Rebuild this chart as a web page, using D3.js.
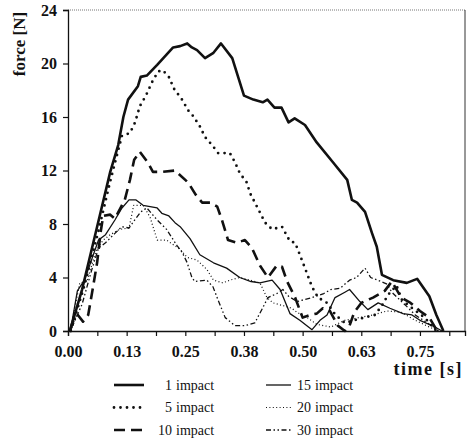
<!DOCTYPE html>
<html>
<head>
<meta charset="utf-8">
<script src="https://cdn.jsdelivr.net/npm/d3@7"></script>
<style>
    body { margin: 0; background: #fff; }
    text { font-family: "Liberation Serif", "Times New Roman", serif; fill: #111; }
</style>
</head>
<body>
<script>
    // force curves, [time s, force N]
    const impact1 = [[0.004,0],[0.03,3.1],[0.06,7.5],[0.09,11.9],[0.107,13.9],[0.118,16],[0.128,17.3],[0.149,18.3],[0.155,19],[0.168,19.1],[0.19,19.9],[0.224,21.2],[0.239,21.3],[0.254,21.5],[0.264,21.2],[0.275,21.0],[0.292,20.4],[0.31,20.8],[0.326,21.5],[0.35,20.4],[0.375,17.6],[0.395,17.3],[0.415,17.1],[0.425,17.3],[0.44,16.7],[0.455,16.7],[0.47,15.6],[0.483,15.9],[0.505,15.4],[0.53,14.1],[0.565,12.6],[0.595,11.3],[0.605,9.8],[0.616,9.6],[0.633,8.9],[0.648,7.3],[0.658,6.3],[0.669,4.2],[0.693,3.8],[0.722,3.6],[0.744,3.9],[0.77,2.6],[0.785,1.2],[0.8,0]];
    const impact5 = [[0.006,0],[0.035,3.4],[0.065,7.5],[0.09,11.2],[0.115,14.6],[0.132,14.8],[0.143,15.6],[0.153,16.8],[0.166,17.6],[0.179,18.6],[0.192,19.4],[0.202,19.5],[0.217,18.9],[0.224,18.2],[0.243,17.3],[0.256,16.5],[0.266,16.1],[0.281,15.3],[0.292,14.5],[0.307,13.9],[0.32,13.3],[0.345,13.3],[0.356,12.6],[0.366,11.8],[0.381,11.1],[0.388,10.3],[0.407,9.0],[0.42,8.1],[0.435,7.6],[0.456,7.8],[0.473,6.7],[0.484,6.6],[0.494,5.7],[0.505,4.7],[0.52,3.3],[0.533,2.5],[0.552,2.1],[0.57,1.2],[0.59,0.6],[0.62,0.9],[0.654,1.2],[0.669,1.9],[0.682,2.7],[0.7,3.4],[0.712,2.3],[0.73,1.8],[0.76,1.0],[0.785,0]];
    const impact10 = [[0.004,0],[0.009,0.6],[0.021,1.2],[0.032,0.7],[0.043,1.2],[0.051,2.8],[0.062,5.1],[0.07,7.5],[0.075,8.6],[0.09,8.7],[0.1,8.4],[0.121,9.8],[0.132,11.3],[0.141,12.8],[0.153,13.4],[0.17,12.6],[0.181,11.9],[0.2,11.9],[0.228,12.0],[0.256,11.1],[0.272,10.2],[0.286,9.6],[0.303,9.6],[0.318,9.3],[0.328,8.3],[0.341,6.8],[0.36,6.6],[0.377,6.8],[0.392,6.2],[0.409,4.9],[0.426,4.0],[0.445,4.9],[0.456,4.8],[0.467,3.7],[0.484,2.5],[0.5,1.0],[0.516,1.2],[0.53,1.3],[0.543,1.7],[0.558,1.5],[0.575,0.4],[0.59,0],[0.6,0.4],[0.61,1.4],[0.625,2.1],[0.65,2.5],[0.675,3.0],[0.69,3.7],[0.71,2.5],[0.73,2.1],[0.75,1.5],[0.77,1.0],[0.787,0]];
    const impact15 = [[0.005,0],[0.02,3.0],[0.035,3.8],[0.05,5.3],[0.065,6.8],[0.08,7.2],[0.1,8.3],[0.115,9.2],[0.13,9.8],[0.145,9.8],[0.16,9.4],[0.175,9.3],[0.19,9.2],[0.2,8.8],[0.215,8.6],[0.228,8.1],[0.239,7.8],[0.26,6.9],[0.281,5.7],[0.31,5.1],[0.338,4.7],[0.366,4.0],[0.39,3.7],[0.409,3.6],[0.435,3.8],[0.452,3.1],[0.473,1.3],[0.494,0.8],[0.52,0.1],[0.537,0.8],[0.552,1.2],[0.569,2.5],[0.59,2.9],[0.6,3.1],[0.622,2.2],[0.639,1.6],[0.661,2.1],[0.686,1.7],[0.714,1.3],[0.733,1.2],[0.75,0.8],[0.782,0.3],[0.797,0]];
    const impact20 = [[0.005,0],[0.025,3.6],[0.04,3.7],[0.06,6.0],[0.075,6.8],[0.09,7.2],[0.11,7.6],[0.13,7.7],[0.14,9.4],[0.16,9.4],[0.175,8.5],[0.19,6.8],[0.21,6.8],[0.239,6.1],[0.254,5.5],[0.275,5.3],[0.296,4.6],[0.31,3.8],[0.33,3.6],[0.345,3.8],[0.366,4.0],[0.388,3.8],[0.409,3.6],[0.424,2.5],[0.437,2.1],[0.458,1.9],[0.477,1.7],[0.488,1.4],[0.51,1.0],[0.53,0.5],[0.56,0.3],[0.59,0.8],[0.62,1.0],[0.65,1.2],[0.68,1.5],[0.71,1.4],[0.74,0.8],[0.77,0.3],[0.79,0]];
    const impact30 = [[0.005,0],[0.03,2.0],[0.05,4.5],[0.065,6.2],[0.08,6.6],[0.1,7.3],[0.115,7.8],[0.13,7.7],[0.14,8.2],[0.155,8.9],[0.168,9.2],[0.19,8.3],[0.21,7.6],[0.232,6.4],[0.243,5.9],[0.254,5.1],[0.264,4.0],[0.27,3.7],[0.296,3.8],[0.309,3.3],[0.32,2.3],[0.335,1.0],[0.356,0.4],[0.377,0.4],[0.398,0.6],[0.416,1.8],[0.426,2.5],[0.445,2.8],[0.458,3.1],[0.47,2.6],[0.488,2.2],[0.52,2.5],[0.545,2.8],[0.56,3.1],[0.58,3.2],[0.6,3.8],[0.615,4.0],[0.633,4.7],[0.645,4.0],[0.66,3.8],[0.68,3.5],[0.69,2.9],[0.705,2.4],[0.72,1.9],[0.74,1.2],[0.77,0.5],[0.79,0]];

    const seriesNames = ["1 impact", "5 impact", "10 impact", "15 impact", "20 impact", "30 impact"];
    const seriesData = [impact1, impact5, impact10, impact15, impact20, impact30];
    const yTicks = [0, 4, 8, 12, 16, 20, 24];
    const xTicks = [0, 0.0625, 0.125, 0.1875, 0.25, 0.3125, 0.375, 0.4375, 0.5, 0.5625, 0.625, 0.6875, 0.75, 0.8125];
    const xLabels = ["0.00", "0.13", "0.25", "0.38", "0.50", "0.63", "0.75"];

    // line look per series
    const styles = [
        { w: 2.6, dash: null, cap: "butt" },
        { w: 2.8, dash: "0 6.5", cap: "round" },
        { w: 2.6, dash: "11 6", cap: "butt" },
        { w: 1.3, dash: null, cap: "butt" },
        { w: 1.2, dash: "1 2.4", cap: "butt" },
        { w: 1.3, dash: "5 2.5 1.5 2.5 1.5 2.5", cap: "butt" }
    ];

    let width = 468, height = 440;
    let mLeft = 68, mRight = 465, mTop = 10, mBottom = 331;

    let svg = d3.select("body").append("svg")
        .attr("width", width)
        .attr("height", height);

    let x = d3.scaleLinear().domain([0, 0.846]).range([mLeft, mRight]);
    let y = d3.scaleLinear().domain([0, 24]).range([mBottom, mTop]);

    // frame: dotted top, thin right
    svg.append("line")
        .attr("x1", mLeft).attr("x2", mRight).attr("y1", mTop).attr("y2", mTop)
        .attr("stroke", "#777").attr("stroke-width", 1).attr("stroke-dasharray", "1 1");
    svg.append("line")
        .attr("x1", mRight).attr("x2", mRight).attr("y1", mTop).attr("y2", mBottom)
        .attr("stroke", "#333").attr("stroke-width", 1);

    let yAxis = svg.append("g")
        .attr("transform", `translate(${mLeft},0)`)
        .call(d3.axisLeft(y).tickValues(yTicks).tickSize(5).tickPadding(6).tickFormat(d3.format("d")));
    let xAxis = svg.append("g")
        .attr("transform", `translate(0,${mBottom})`)
        .call(d3.axisBottom(x).tickValues(xTicks).tickSize(5).tickPadding(6)
            .tickFormat((d, i) => i % 2 === 0 ? xLabels[i / 2] : ""));

    [yAxis, xAxis].forEach(g => {
        g.select(".domain").attr("stroke", "#111").attr("stroke-width", 1.3);
        g.selectAll(".tick line").attr("stroke", "#111").attr("stroke-width", 1.2);
        g.selectAll(".tick text")
            .attr("fill", "#111")
            .style("font-family", '"Liberation Serif", serif')
            .style("font-size", "16px")
            .style("font-weight", "bold");
    });
    xAxis.selectAll(".tick text").attr("dy", "0.95em");

    svg.append("text")
        .attr("transform", "translate(25,44) rotate(-90)")
        .attr("text-anchor", "middle")
        .style("font-size", "17px")
        .style("font-weight", "bold")
        .text("force [N]");

    svg.append("text")
        .attr("x", 463).attr("y", 375)
        .attr("text-anchor", "end")
        .style("font-size", "18px")
        .style("font-weight", "bold")
        .style("letter-spacing", "1.5px")
        .text("time [s]");

    let line = d3.line().x(d => x(d[0])).y(d => y(d[1]));

    svg.append("g").selectAll("path")
        .data(seriesData)
        .join("path")
        .attr("d", line)
        .attr("fill", "none")
        .attr("stroke", "#111")
        .attr("stroke-linejoin", "round")
        .attr("stroke-width", (d, i) => styles[i].w)
        .attr("stroke-dasharray", (d, i) => styles[i].dash)
        .attr("stroke-linecap", (d, i) => styles[i].cap);

    // legend, two columns of three
    let legend = svg.append("g");
    seriesNames.forEach((name, i) => {
        let col = Math.floor(i / 3), row = i % 3;
        let lx = col === 0 ? 114 : 266;
        let ly = 385 + row * 22.5;
        let st = styles[i];
        legend.append("line")
            .attr("x1", lx).attr("x2", lx + (col === 0 ? 30 : 25))
            .attr("y1", ly).attr("y2", ly)
            .attr("stroke", "#111")
            .attr("stroke-width", st.w)
            .attr("stroke-dasharray", st.dash)
            .attr("stroke-linecap", st.cap);
        let num = name.split(" ")[0];
        let nx = col === 0 ? 172 : 311;
        legend.append("text")
            .attr("x", nx).attr("y", ly + 4.5)
            .attr("text-anchor", "end")
            .style("font-size", "14px")
            .text(num);
        legend.append("text")
            .attr("x", nx + 4).attr("y", ly + 4.5)
            .style("font-size", "14px")
            .text("impact");
    });
</script>
</body>
</html>
